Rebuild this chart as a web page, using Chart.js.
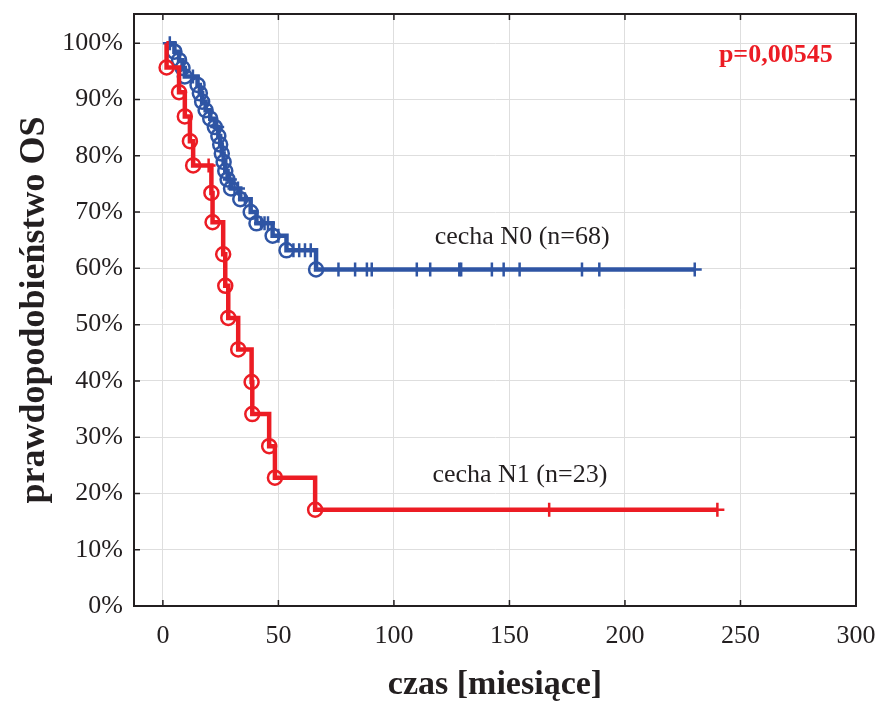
<!DOCTYPE html>
<html lang="pl">
<head>
    <meta charset="UTF-8">
    <title>Krzywe przeżycia OS</title>
    <script src="https://cdn.jsdelivr.net/npm/chart.js"></script>
    <style>
        html, body { margin: 0; padding: 0; background: #fff; }
        #wrap { width: 882px; height: 702px; }
    </style>
</head>
<body>
    <div id="wrap"><canvas id="kmChart" width="882" height="702"></canvas></div>

    <script>
        // osie
        const xTicks = [0, 50, 100, 150, 200, 250, 300];
        const yTicks = [0, 10, 20, 30, 40, 50, 60, 70, 80, 90, 100];

        // cecha N1 (n=23) - zgony (czas, przeżycie %)
        const n1Start = 1.5;
        const n1EventTime = [1.6, 7.0, 9.5, 11.7, 13.1, 21.0, 21.5, 26.1, 27.0, 28.3, 32.6, 38.4, 38.7, 46.0, 48.5, 65.9];
        const n1EventSurv = [95.7, 91.3, 87.0, 82.6, 78.3, 73.4, 68.2, 62.5, 56.9, 51.2, 45.6, 39.8, 34.1, 28.4, 22.8, 17.1];
        // obserwacje ucięte
        const n1CensorTime = [19.8, 167.2, 240.0];
        const n1CensorSurv = [78.3, 17.1, 17.1];

        // cecha N0 (n=68)
        const n0Start = 2.0;
        const n0EventTime = [5.0, 7.0, 8.5, 9.5, 15.0, 16.0, 17.0, 18.5, 20.5, 22.5, 24.0, 24.8, 25.5, 26.3, 27.0, 28.0, 29.5, 33.5, 38.0, 40.5, 47.5, 53.5, 66.3];
        const n0EventSurv = [98.5, 97.0, 95.6, 94.1, 92.6, 91.1, 89.6, 88.1, 86.6, 85.1, 83.5, 82.0, 80.4, 78.9, 77.3, 75.8, 74.2, 72.3, 70.0, 68.0, 65.8, 63.2, 59.8];
        const n0CensorTime = [3.0, 13.0, 23.5, 29.0, 31.0, 32.5, 35.5, 42.5, 44.0, 45.5, 50.0, 56.5, 59.0, 61.5, 64.0,
            76.0, 83.2, 88.3, 90.4, 109.9, 115.7, 128.3, 129.1, 142.4, 147.5, 154.4, 181.4, 188.9, 230.2];
        const n0CensorSurv = [100, 94.1, 85.1, 75.8, 74.2, 74.2, 72.3, 68.0, 68.0, 68.0, 65.8, 63.2, 63.2, 63.2, 63.2,
            59.8, 59.8, 59.8, 59.8, 59.8, 59.8, 59.8, 59.8, 59.8, 59.8, 59.8, 59.8, 59.8, 59.8];

        const RED = '#ec1c24';
        const BLUE = '#2f55a4';
        const INK = '#231f20';
        const SERIF = '"Liberation Serif", "Times New Roman", serif';

        function pts(xs, ys) {
            return xs.map((v, i) => ({ x: v, y: ys[i] }));
        }

        // linia schodkowa: start 100%, zdarzenia, koniec na ostatniej obserwacji
        function stepLine(start, evT, evS, cT, cS) {
            const p = [{ x: start, y: 100 }].concat(pts(evT, evS));
            p.push({ x: cT[cT.length - 1], y: cS[cS.length - 1] });
            return p;
        }

        const frameAndText = {
            id: 'frameAndText',
            afterDraw(chart, args, opts) {
                const { ctx, chartArea: a, scales: { x, y } } = chart;
                ctx.save();
                ctx.strokeStyle = INK;
                ctx.lineWidth = 2;
                ctx.strokeRect(a.left, a.top, a.right - a.left, a.bottom - a.top);
                ctx.lineWidth = 1.5;
                ctx.beginPath();
                xTicks.forEach(v => {
                    const px = x.getPixelForValue(v);
                    ctx.moveTo(px, a.bottom); ctx.lineTo(px, a.bottom - 6);
                    ctx.moveTo(px, a.top); ctx.lineTo(px, a.top + 6);
                });
                yTicks.forEach(v => {
                    const py = y.getPixelForValue(v);
                    ctx.moveTo(a.left, py); ctx.lineTo(a.left + 6, py);
                    ctx.moveTo(a.right, py); ctx.lineTo(a.right - 6, py);
                });
                ctx.stroke();

                opts.labels.forEach(l => {
                    ctx.font = l.font;
                    ctx.fillStyle = l.color;
                    ctx.textAlign = l.align;
                    ctx.textBaseline = 'middle';
                    ctx.fillText(l.text, x.getPixelForValue(l.x), y.getPixelForValue(l.y));
                });
                ctx.restore();
            }
        };

        const ctx = document.getElementById('kmChart').getContext('2d');
        new Chart(ctx, {
            type: 'scatter',
            data: {
                datasets: [
                    {
                        label: 'N1 zgony',
                        data: pts(n1EventTime, n1EventSurv),
                        pointStyle: 'circle', pointRadius: 7, pointBorderWidth: 2.5,
                        borderColor: RED, backgroundColor: 'rgba(0,0,0,0)'
                    },
                    {
                        label: 'N1 ucięte',
                        data: pts(n1CensorTime, n1CensorSurv),
                        pointStyle: 'cross', pointRadius: 7, pointBorderWidth: 2.5,
                        borderColor: RED, backgroundColor: RED
                    },
                    {
                        label: 'N1',
                        data: stepLine(n1Start, n1EventTime, n1EventSurv, n1CensorTime, n1CensorSurv),
                        showLine: true, stepped: true, pointRadius: 0,
                        borderColor: RED, borderWidth: 4.5
                    },
                    {
                        label: 'N0 zgony',
                        data: pts(n0EventTime, n0EventSurv),
                        pointStyle: 'circle', pointRadius: 7, pointBorderWidth: 2.5,
                        borderColor: BLUE, backgroundColor: 'rgba(0,0,0,0)'
                    },
                    {
                        label: 'N0 ucięte',
                        data: pts(n0CensorTime, n0CensorSurv),
                        pointStyle: 'cross', pointRadius: 7, pointBorderWidth: 2.5,
                        borderColor: BLUE, backgroundColor: BLUE
                    },
                    {
                        label: 'N0',
                        data: stepLine(n0Start, n0EventTime, n0EventSurv, n0CensorTime, n0CensorSurv),
                        showLine: true, stepped: true, pointRadius: 0,
                        borderColor: BLUE, borderWidth: 4.5
                    }
                ]
            },
            options: {
                responsive: false,
                animation: false,
                events: [],
                layout: { padding: { top: 14, right: 26, left: 0, bottom: 0 } },
                plugins: {
                    legend: { display: false },
                    tooltip: { enabled: false },
                    frameAndText: {
                        labels: [
                            { text: 'cecha N0 (n=68)', x: 155.5, y: 65.6, align: 'center', color: INK, font: '26px ' + SERIF },
                            { text: 'cecha N1 (n=23)', x: 154.5, y: 23.2, align: 'center', color: INK, font: '26px ' + SERIF },
                            { text: 'p=0,00545', x: 289.9, y: 97.8, align: 'right', color: RED, font: 'bold 26px ' + SERIF }
                        ]
                    }
                },
                scales: {
                    x: {
                        type: 'linear', min: -12.5, max: 300,
                        afterBuildTicks: s => { s.ticks = xTicks.map(v => ({ value: v })); },
                        afterFit: s => { s.height = 96; s.paddingLeft = 0; s.paddingRight = 0; },
                        ticks: { color: INK, padding: 15, maxRotation: 0, font: { family: SERIF, size: 26 } },
                        grid: { color: '#dedede', lineWidth: 1, drawTicks: false },
                        border: { color: INK, width: 2 },
                        title: {
                            display: true, text: 'czas [miesiące]', color: INK,
                            font: { family: SERIF, size: 34, weight: 'bold', lineHeight: 1 },
                            padding: { top: 0, bottom: 0 }
                        }
                    },
                    y: {
                        type: 'linear', min: 0, max: 105.2,
                        afterBuildTicks: s => { s.ticks = yTicks.map(v => ({ value: v })); },
                        afterFit: s => { s.width = 134; s.paddingTop = 0; s.paddingBottom = 0; },
                        ticks: { color: INK, padding: 11, callback: v => v + '%', font: { family: SERIF, size: 26 } },
                        grid: { color: '#dedede', lineWidth: 1, drawTicks: false },
                        border: { color: INK, width: 2 },
                        title: {
                            display: true, text: 'prawdopodobieństwo OS', color: INK,
                            font: { family: SERIF, size: 36, weight: 'bold', lineHeight: 1 },
                            padding: { top: 17, bottom: 0 }
                        }
                    }
                }
            },
            plugins: [frameAndText]
        });
    </script>
</body>
</html>
